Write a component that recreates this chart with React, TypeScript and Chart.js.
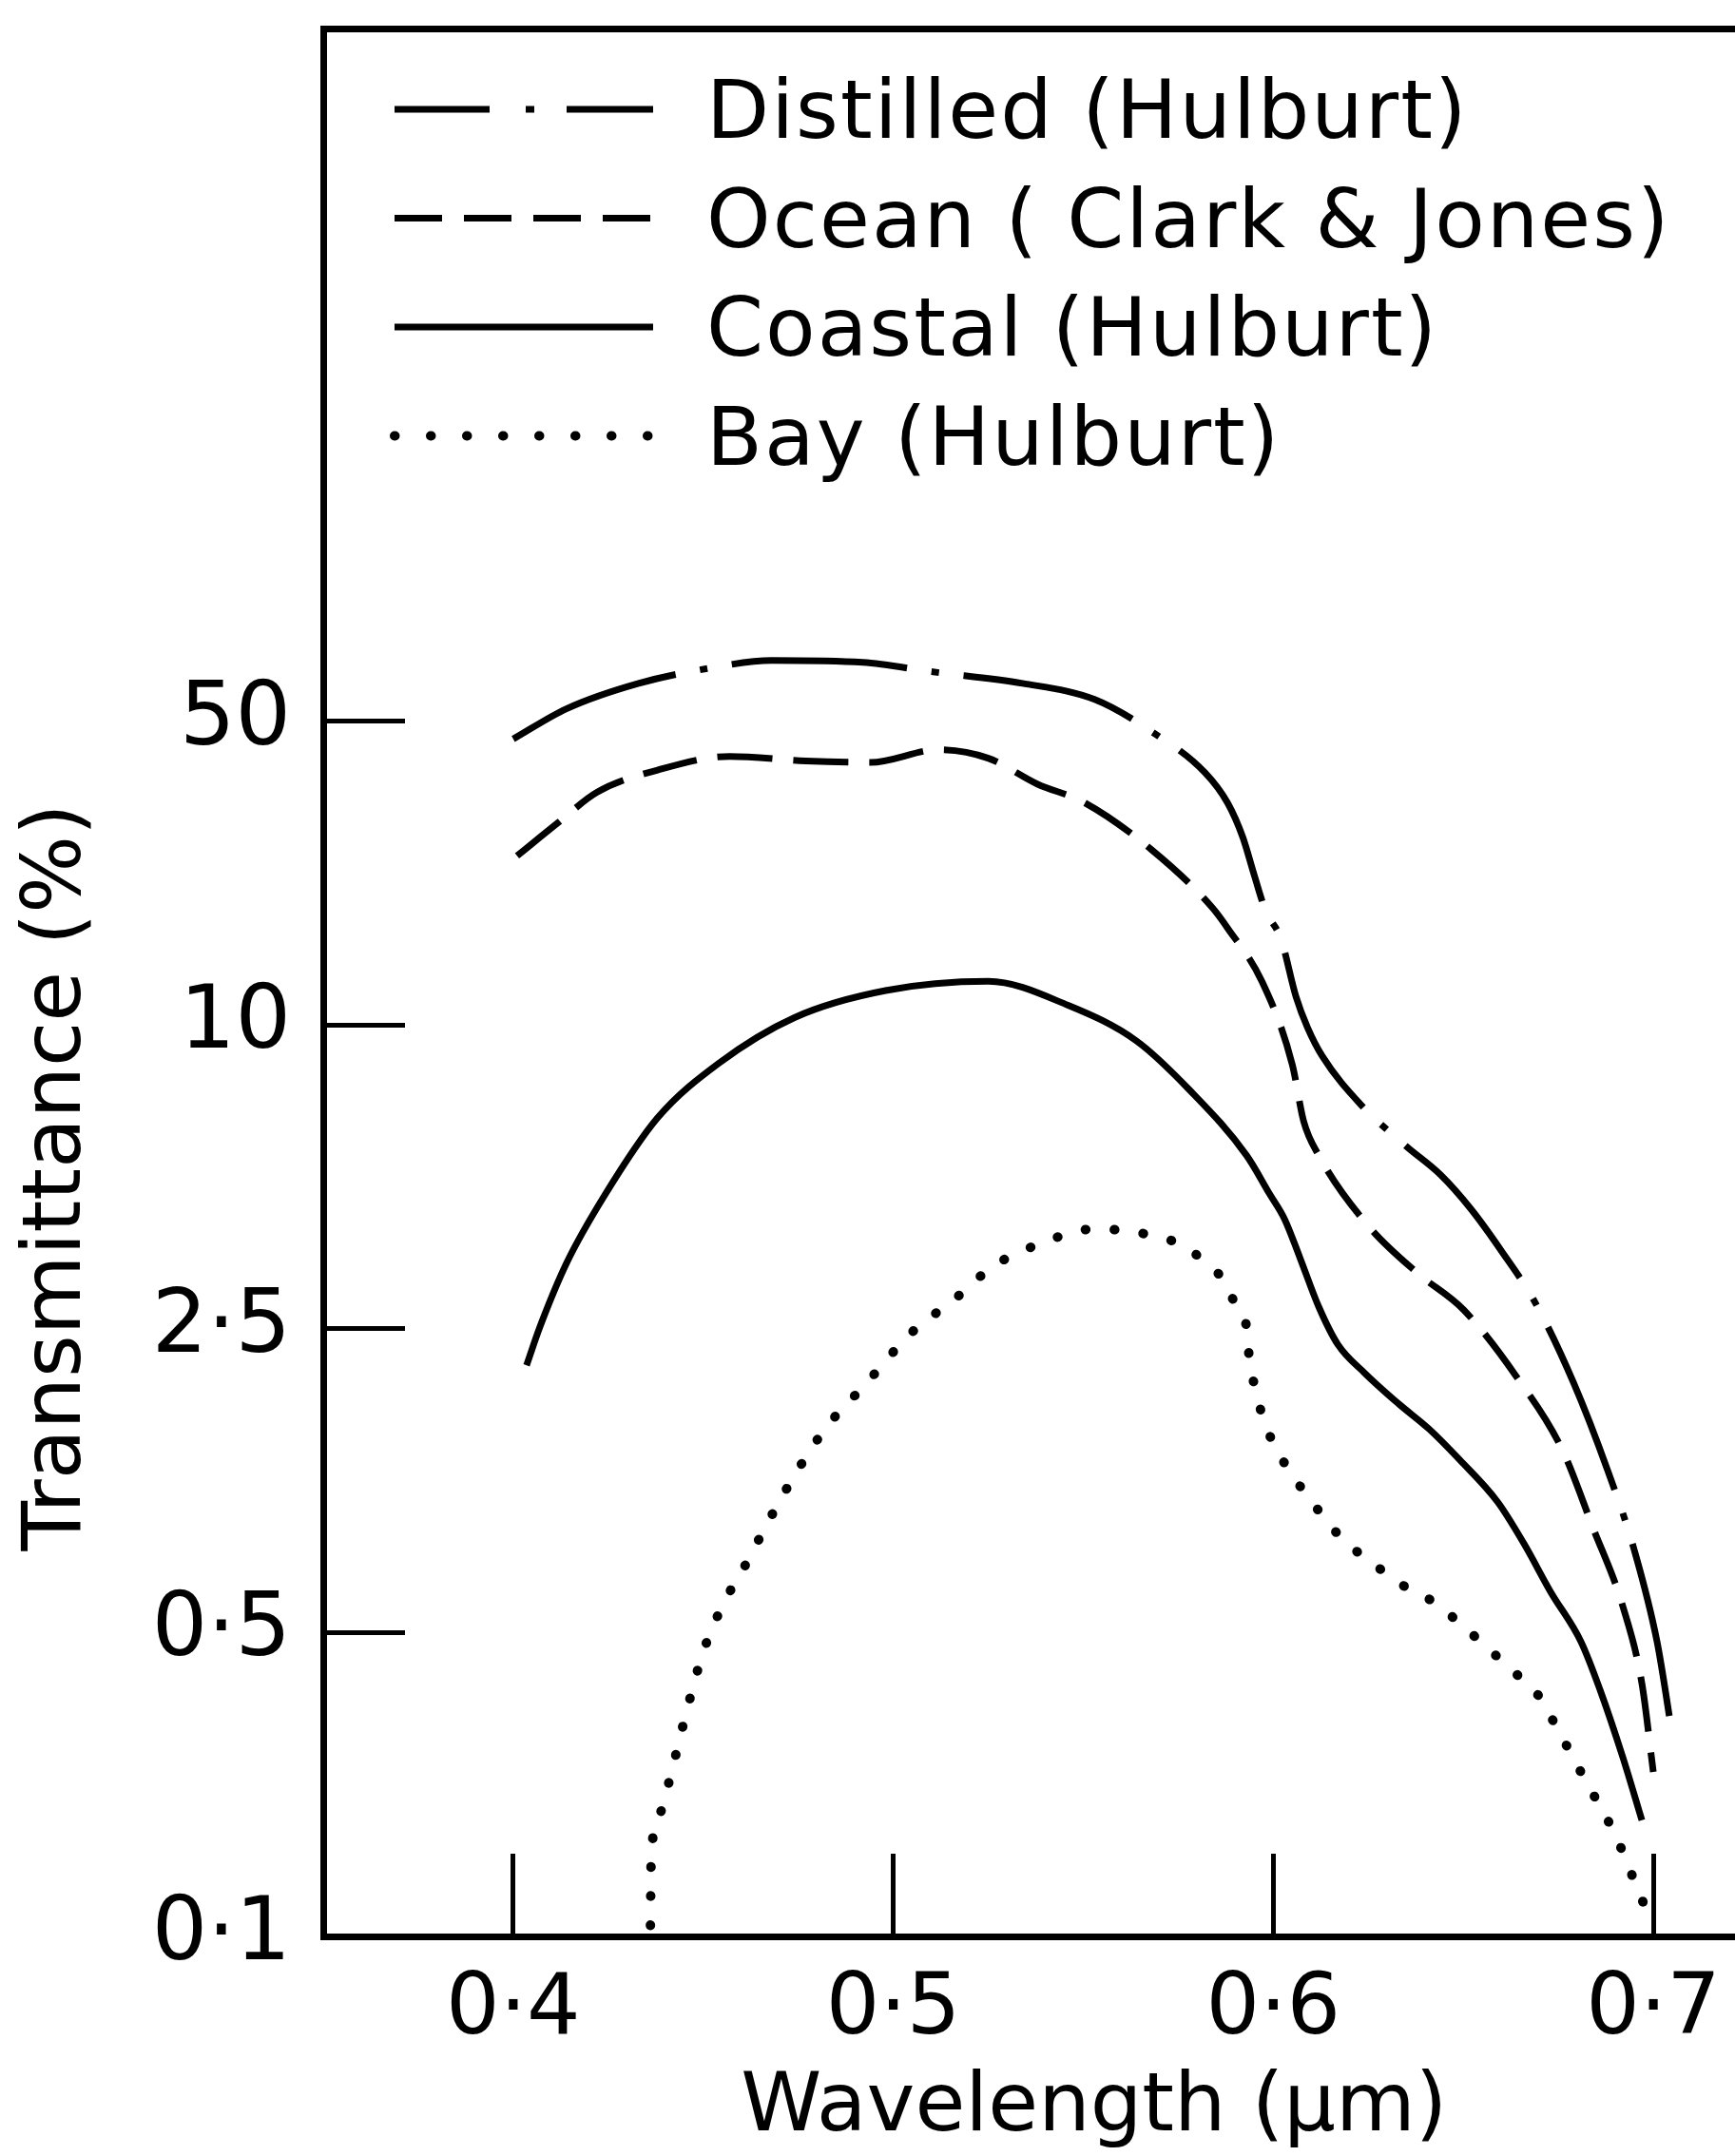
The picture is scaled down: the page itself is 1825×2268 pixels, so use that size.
import React, { useEffect, useRef } from 'react';
import { Chart, registerables } from 'chart.js';

Chart.register(...registerables);

// ---------- data ----------
const X_TICKS = [0.4, 0.5, 0.6, 0.7];
const X_TICK_LABELS = ['0·4', '0·5', '0·6', '0·7'];
const X_MIN = 0.35;
const X_MAX = 0.7215;

// Y axis: tick marks are evenly spaced, labelled with these transmittance values (%)
const Y_TICK_VALUES = [0.1, 0.5, 2.5, 10, 50];
const Y_TICK_LABELS = ['0·1', '0·5', '2·5', '10', '50'];
const Y_TOP = 6.28; // top frame position in tick-spacing units

const X_TITLE = 'Wavelength (μm)';
const Y_TITLE = 'Transmittance (%)';

const SERIES_LABELS = ['Distilled (Hulburt)', 'Ocean ( Clark & Jones)', 'Coastal (Hulburt)', 'Bay (Hulburt)'];

const DISTILLED_WL = [0.400, 0.414, 0.433, 0.452, 0.468, 0.492, 0.510, 0.534, 0.553, 0.568, 0.582, 0.588, 0.592, 0.595, 0.598, 0.602, 0.606, 0.609, 0.613, 0.623, 0.635, 0.644, 0.652, 0.660, 0.669, 0.679, 0.688, 0.695, 0.701, 0.705];
const DISTILLED_T = [45.5, 53.4, 61.1, 66.3, 69.0, 68.3, 65.0, 61.1, 56.1, 47.3, 38.1, 32.4, 27.0, 22.1, 18.3, 15.8, 11.6, 9.89, 8.65, 6.96, 5.75, 5.05, 4.32, 3.57, 2.81, 1.88, 1.18, 0.774, 0.476, 0.291];

const OCEAN_WL = [0.401, 0.412, 0.422, 0.438, 0.457, 0.477, 0.494, 0.512, 0.525, 0.538, 0.550, 0.568, 0.584, 0.588, 0.597, 0.605, 0.608, 0.612, 0.625, 0.638, 0.650, 0.664, 0.676, 0.684, 0.692, 0.697, 0.700];
const OCEAN_T = [24.5, 29.3, 34.3, 38.6, 41.5, 40.5, 40.2, 43.0, 41.1, 35.8, 32.6, 25.3, 18.6, 16.7, 12.6, 8.35, 6.44, 5.51, 4.00, 3.22, 2.73, 1.94, 1.32, 0.877, 0.574, 0.382, 0.239];

const COASTAL_WL = [0.4035, 0.407, 0.414, 0.424, 0.438, 0.454, 0.474, 0.498, 0.525, 0.546, 0.564, 0.578, 0.593, 0.599, 0.603, 0.607, 0.612, 0.617, 0.624, 0.633, 0.641, 0.649, 0.659, 0.666, 0.673, 0.681, 0.686, 0.692, 0.697];
const COASTAL_T = [2.06, 2.52, 3.37, 4.59, 6.55, 8.39, 10.4, 12.0, 12.6, 11.1, 9.30, 7.43, 5.51, 4.63, 4.12, 3.46, 2.76, 2.30, 1.98, 1.68, 1.47, 1.25, 1.00, 0.80, 0.62, 0.476, 0.369, 0.258, 0.185];

const BAY_WL = [0.4361, 0.4363, 0.4383, 0.4416, 0.4446, 0.4498, 0.4548, 0.4613, 0.4676, 0.4753, 0.4828, 0.4926, 0.5046, 0.5161, 0.5264, 0.5384, 0.5527, 0.5609, 0.5754, 0.5819, 0.5869, 0.5904, 0.5932, 0.5937, 0.5952, 0.5969, 0.5997, 0.6042, 0.6094, 0.6177, 0.6272, 0.6350, 0.6425, 0.6492, 0.6565, 0.6625, 0.6700, 0.6747, 0.6822, 0.6900, 0.6955, 0.6985];
const BAY_T = [0.106, 0.150, 0.189, 0.238, 0.304, 0.446, 0.571, 0.721, 0.917, 1.20, 1.50, 1.86, 2.44, 2.86, 3.33, 3.68, 3.94, 3.91, 3.68, 3.40, 3.12, 2.76, 2.45, 2.11, 1.84, 1.60, 1.38, 1.18, 1.02, 0.83, 0.71, 0.635, 0.586, 0.524, 0.460, 0.412, 0.356, 0.301, 0.228, 0.171, 0.131, 0.113];

// ---------- helpers ----------
const FONT = '"DejaVu Sans", "Noto Sans", sans-serif';
const W = 1825;
const H = 2268;

// map a transmittance value onto the evenly spaced tick axis (log interpolation between labelled ticks)
function toAxis(v: number): number {
  const T = Y_TICK_VALUES;
  let k = 0;
  while (k < T.length - 2 && v > T[k + 1]) k++;
  return k + Math.log(v / T[k]) / Math.log(T[k + 1] / T[k]);
}

function pts(wl: number[], t: number[]) {
  return wl.map((x, i) => ({ x, y: toAxis(t[i]) }));
}

const insideLegend = {
  id: 'insideLegend',
  afterDraw(chart: any) {
    const ctx = chart.ctx as CanvasRenderingContext2D;
    ctx.save();
    ctx.font = `86px ${FONT}`;
    ctx.fillStyle = '#000';
    ctx.textAlign = 'left';
    ctx.textBaseline = 'alphabetic';
    (ctx as any).letterSpacing = '2px';
    chart.data.datasets.forEach((ds: any, i: number) => {
      const base = 145 + i * 114.5;
      const ly = base - 30;
      ctx.beginPath();
      ctx.setLineDash(ds.legendDash || []);
      ctx.lineWidth = ds.borderWidth;
      ctx.lineCap = ds.borderCapStyle || 'butt';
      ctx.strokeStyle = ds.borderColor;
      ctx.moveTo(415, ly);
      ctx.lineTo(687, ly);
      ctx.stroke();
      ctx.setLineDash([]);
      ctx.fillText(ds.label, 743, base);
    });
    ctx.restore();
  },
};

function zeroPad(s: any) {
  s.paddingLeft = 0;
  s.paddingRight = 0;
  s.paddingTop = 0;
  s.paddingBottom = 0;
}

export default function App() {
  const ref = useRef<HTMLCanvasElement | null>(null);

  useEffect(() => {
    if (!ref.current) return;
    const common = {
      borderColor: '#000',
      pointRadius: 0,
      fill: false,
      cubicInterpolationMode: 'monotone' as const,
    };
    const chart = new Chart(ref.current, {
      type: 'line',
      data: {
        datasets: [
          { ...common, label: SERIES_LABELS[0], data: pts(DISTILLED_WL, DISTILLED_T), borderWidth: 7, borderDash: [185, 26, 8, 26], legendDash: [100, 38, 9, 34] } as any,
          { ...common, label: SERIES_LABELS[1], data: pts(OCEAN_WL, OCEAN_T), borderWidth: 7, borderDash: [58, 22], legendDash: [50, 23] } as any,
          { ...common, label: SERIES_LABELS[2], data: pts(COASTAL_WL, COASTAL_T), borderWidth: 7, borderDash: [], legendDash: [] } as any,
          { ...common, label: SERIES_LABELS[3], data: pts(BAY_WL, BAY_T), borderWidth: 10, borderCapStyle: 'round', borderDash: [0.5, 30], legendDash: [0.5, 37.5] } as any,
        ],
      },
      options: {
        responsive: false,
        animation: false,
        events: [],
        devicePixelRatio: 1,
        layout: { padding: { top: 30, left: 0, right: 0, bottom: 0 } },
        plugins: {
          legend: { display: false },
          tooltip: { enabled: false },
        },
        scales: {
          x: {
            type: 'linear',
            position: 'bottom',
            min: X_MIN,
            max: X_MAX,
            afterBuildTicks: (s: any) => {
              s.ticks = X_TICKS.map((v) => ({ value: v }));
            },
            afterFit: (s: any) => {
              s.height = H - 2037;
              zeroPad(s);
            },
            ticks: {
              autoSkip: false,
              maxRotation: 0,
              color: '#000',
              padding: 121,
              font: { family: FONT, size: 89, lineHeight: 1 },
              callback: (_v: any, i: number) => X_TICK_LABELS[i],
            },
            grid: {
              drawOnChartArea: false,
              drawTicks: true,
              tickLength: -87,
              tickWidth: 5,
              tickColor: '#000',
            },
            border: { display: true, color: '#000', width: 7 },
            title: {
              display: true,
              text: '     ' + X_TITLE,
              color: '#000',
              font: { family: FONT, size: 86, lineHeight: 1 },
              padding: { top: 0, bottom: 6 },
            },
          },
          xTop: {
            type: 'linear',
            position: 'top',
            min: X_MIN,
            max: X_MAX,
            ticks: { display: false },
            grid: { display: false },
            border: { display: true, color: '#000', width: 7 },
            afterFit: (s: any) => {
              s.height = 0;
              zeroPad(s);
            },
          },
          y: {
            type: 'linear',
            position: 'left',
            min: 0,
            max: Y_TOP,
            afterBuildTicks: (s: any) => {
              s.ticks = Y_TICK_VALUES.map((_v, i) => ({ value: i }));
            },
            afterFit: (s: any) => {
              s.width = 340;
              zeroPad(s);
            },
            ticks: {
              autoSkip: false,
              color: '#000',
              padding: 120,
              font: { family: FONT, size: 92, lineHeight: 1 },
              callback: (_v: any, i: number) => Y_TICK_LABELS[i],
            },
            grid: {
              drawOnChartArea: false,
              drawTicks: true,
              tickLength: -86,
              tickWidth: 5,
              tickColor: '#000',
            },
            border: { display: true, color: '#000', width: 7 },
            title: {
              display: true,
              text: Y_TITLE + ' '.repeat(15),
              color: '#000',
              font: { family: FONT, size: 86, lineHeight: 1 },
              padding: { top: 19, bottom: 0 },
            },
          },
        },
      } as any,
      plugins: [insideLegend],
    });
    return () => chart.destroy();
  }, []);

  return (
    <div style={{ position: 'absolute', left: 0, top: 0, width: W, height: H, background: '#fff' }}>
      <canvas ref={ref} width={W} height={H} style={{ width: W, height: H, display: 'block' }} />
    </div>
  );
}
